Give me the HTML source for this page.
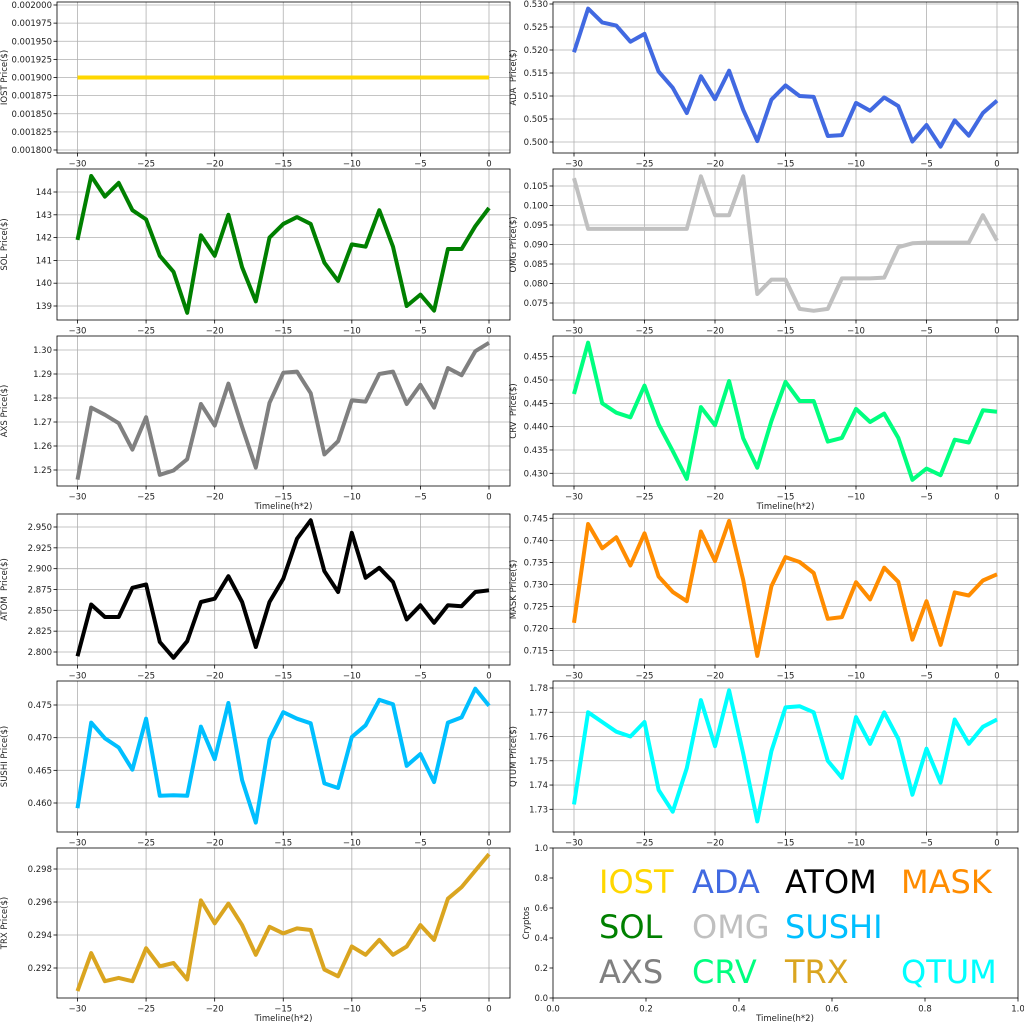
<!DOCTYPE html>
<html><head><meta charset="utf-8"><style>
body{margin:0;background:#fff}
svg text{font-family:"DejaVu Sans","Liberation Sans",sans-serif;fill:#222}
</style></head><body>
<svg id="s" width="1024" height="1024" xmlns="http://www.w3.org/2000/svg"></svg>
<script>
const s=document.getElementById('s');let h='';
const FS=8.5;
const L={x0:57,x1:510,a:77.5,b:489,lab:7},R={x0:553,x1:1018,a:574,b:997,lab:516};
const rows=[[2,153],[169,320],[336,486],[514,665],[681,832],[848,998]];
function fmt(v,d){return v.toFixed(d)}
function plot(col,row,name,color,v1,p1,v2,p2,ticks,dec,data,xlab){
 const [y0,y1]=rows[row];const X=i=>col.a+(i)*(col.b-col.a)/30;
 const Y=v=>p1+(v-v1)*(p2-p1)/(v2-v1);
 for(let k=0;k<=6;k++){const x=col.a+k*(col.b-col.a)/6;
  h+=`<line x1="${x}" y1="${y0}" x2="${x}" y2="${y1}" stroke="#b0b0b0" stroke-width="0.8"/>`;
  h+=`<line x1="${x}" y1="${y1}" x2="${x}" y2="${y1+3.5}" stroke="#000" stroke-width="0.8"/>`;
  const t=k==6?'0':'\u2212'+(30-k*5);
  h+=`<text x="${x}" y="${y1+13.5}" font-size="${FS}" text-anchor="middle">${t}</text>`;}
 ticks.forEach(v=>{const y=Y(v);
  h+=`<line x1="${col.x0}" y1="${y}" x2="${col.x1}" y2="${y}" stroke="#b0b0b0" stroke-width="0.8"/>`;
  h+=`<line x1="${col.x0-3.5}" y1="${y}" x2="${col.x0}" y2="${y}" stroke="#000" stroke-width="0.8"/>`;
  h+=`<text x="${col.x0-5}" y="${y+3}" font-size="${FS}" text-anchor="end">${fmt(v,dec)}</text>`;});
 h+=`<polyline fill="none" stroke="${color}" stroke-width="4" stroke-linejoin="round" points="${data.map((v,i)=>X(i).toFixed(1)+','+Y(v).toFixed(1)).join(' ')}"/>`;
 h+=`<rect x="${col.x0}" y="${y0}" width="${col.x1-col.x0}" height="${y1-y0}" fill="none" stroke="#000" stroke-width="0.8"/>`;
 const cy=(y0+y1)/2;
 h+=`<text transform="translate(${col.lab},${cy}) rotate(-90)" font-size="${FS}" text-anchor="middle" style="white-space:pre">${name}</text>`;
 if(xlab)h+=`<text x="${(col.x0+col.x1)/2}" y="${y1+23}" font-size="${FS}" text-anchor="middle">Timeline(h*2)</text>`;
}
function rng(a,b,st){const r=[];for(let v=a;v<=b+st/2;v+=st)r.push(+v.toFixed(6));return r}
plot(L,0,'IOST Price($)','#FFD700',0.002,5,0.0018,150,rng(0.0018,0.002,0.000025),6,Array(31).fill(0.0019));
plot(R,0,'ADA  Price($)','#4169E1',0.53,4,0.50,142,rng(0.5,0.53,0.005),3,[0.5195,0.529,0.526,0.5253,0.5218,0.5235,0.5153,0.5118,0.5063,0.5143,0.5093,0.5155,0.507,0.5002,0.5092,0.5123,0.51,0.5098,0.5013,0.5015,0.5085,0.5068,0.5097,0.5078,0.5001,0.5037,0.499,0.5047,0.5014,0.5063,0.509]);
plot(L,1,'SOL Price($)','#008000',144,192,139,306,rng(139,144,1),0,[141.9,144.7,143.8,144.4,143.2,142.8,141.2,140.5,138.7,142.1,141.2,143.0,140.7,139.2,142.0,142.6,142.9,142.6,140.9,140.1,141.7,141.6,143.2,141.6,139.0,139.5,138.8,141.5,141.5,142.5,143.3]);
plot(R,1,'OMG Price($)','#C0C0C0',0.105,186,0.075,303,rng(0.075,0.105,0.005),3,[0.107,0.094,0.094,0.094,0.094,0.094,0.094,0.094,0.094,0.1075,0.0975,0.0975,0.1075,0.0773,0.081,0.081,0.0735,0.073,0.0735,0.0813,0.0813,0.0813,0.0815,0.0893,0.0903,0.0905,0.0905,0.0905,0.0905,0.0975,0.091]);
plot(L,2,'AXS Price($)','#808080',1.30,350,1.25,470,rng(1.25,1.30,0.01),2,[1.246,1.276,1.273,1.2695,1.2585,1.272,1.248,1.2498,1.2545,1.2775,1.2685,1.286,1.268,1.251,1.278,1.2905,1.291,1.282,1.2565,1.262,1.279,1.2785,1.29,1.291,1.2775,1.2855,1.276,1.2925,1.2895,1.2995,1.303],true);
plot(R,2,'CRV  Price($)','#00FF7F',0.455,356.7,0.430,473.3,rng(0.43,0.455,0.005),3,[0.447,0.458,0.445,0.443,0.442,0.4488,0.4405,0.4348,0.4288,0.4442,0.4403,0.4498,0.4375,0.4312,0.4412,0.4496,0.4455,0.4455,0.4368,0.4376,0.4438,0.441,0.4428,0.4376,0.4286,0.431,0.4296,0.4372,0.4366,0.4435,0.4432],true);
plot(L,3,'ATOM  Price($)','#000000',2.95,527,2.80,652,rng(2.8,2.95,0.025),3,[2.795,2.857,2.842,2.842,2.877,2.881,2.812,2.793,2.813,2.860,2.864,2.891,2.860,2.806,2.860,2.888,2.936,2.958,2.897,2.872,2.943,2.889,2.901,2.884,2.839,2.856,2.835,2.856,2.855,2.872,2.874]);
plot(R,3,'MASK Price($)','#FF8C00',0.745,518.3,0.715,650.6,rng(0.715,0.745,0.005),3,[0.7213,0.7437,0.7382,0.7407,0.7343,0.7416,0.7318,0.7283,0.7262,0.742,0.7353,0.7444,0.731,0.7138,0.7296,0.7362,0.7351,0.7326,0.7222,0.7226,0.7305,0.7266,0.7338,0.7306,0.7175,0.7262,0.7163,0.7282,0.7275,0.7309,0.7323]);
plot(L,4,'SUSHI Price($)','#00BFFF',0.475,705,0.460,803,rng(0.46,0.475,0.005),3,[0.4592,0.4723,0.4699,0.4685,0.4651,0.4729,0.4611,0.4612,0.4611,0.4717,0.4667,0.4753,0.4635,0.457,0.4697,0.4739,0.4729,0.4722,0.463,0.4623,0.4701,0.4719,0.4758,0.4751,0.4657,0.4675,0.4632,0.4723,0.4731,0.4775,0.4749]);
plot(R,4,'QTUM Price($)','#00FFFF',1.78,688,1.73,809.3,rng(1.73,1.78,0.01),2,[1.732,1.770,1.766,1.762,1.760,1.766,1.738,1.729,1.747,1.775,1.756,1.779,1.753,1.725,1.754,1.772,1.7725,1.770,1.750,1.743,1.768,1.757,1.770,1.759,1.736,1.755,1.741,1.767,1.757,1.764,1.767]);
plot(L,5,'TRX Price($)','#DAA520',0.298,869,0.292,968,rng(0.292,0.298,0.002),3,[0.2906,0.2929,0.2912,0.2914,0.2912,0.2932,0.2921,0.2923,0.2913,0.2961,0.2947,0.2959,0.2946,0.2928,0.2945,0.2941,0.2944,0.2943,0.2919,0.2915,0.2933,0.2928,0.2937,0.2928,0.2933,0.2946,0.2937,0.2962,0.2969,0.2979,0.2989],true);
{const x0=553,x1=1018,y0=848,y1=998;
 for(let k=0;k<=5;k++){const x=x0+k*(x1-x0)/5,y=y1-k*(y1-y0)/5,t=(k/5).toFixed(1);
  h+=`<line x1="${x}" y1="${y1}" x2="${x}" y2="${y1+3.5}" stroke="#000" stroke-width="0.8"/><text x="${x}" y="${y1+13.5}" font-size="${FS}" text-anchor="middle">${t}</text>`;
  h+=`<line x1="${x0-3.5}" y1="${y}" x2="${x0}" y2="${y}" stroke="#000" stroke-width="0.8"/><text x="${x0-5}" y="${y+3}" font-size="${FS}" text-anchor="end">${t}</text>`;}
 h+=`<rect x="${x0}" y="${y0}" width="${x1-x0}" height="${y1-y0}" fill="none" stroke="#000" stroke-width="0.8"/>`;
 h+=`<text transform="translate(529,${(y0+y1)/2}) rotate(-90)" font-size="${FS}" text-anchor="middle">Cryptos</text>`;
 h+=`<text x="785" y="1021" font-size="${FS}" text-anchor="middle">Timeline(h*2)</text>`;
 const items=[['IOST','#FFD700',0,0],['ADA','#4169E1',1,0],['ATOM','#000000',2,0],['MASK','#FF8C00',3,0],['SOL','#008000',0,1],['OMG','#C0C0C0',1,1],['SUSHI','#00BFFF',2,1],['AXS','#808080',0,2],['CRV','#00FF7F',1,2],['TRX','#DAA520',2,2],['QTUM','#00FFFF',3,2]];
 const cx=[599,692,785,901],by=[893,938,983];
 items.forEach(([t,c,i,j])=>{h+=`<text x="${cx[i]}" y="${by[j]}" font-size="32" style="fill:${c}">${t}</text>`});}
s.innerHTML=h;
</script>
</body></html>
